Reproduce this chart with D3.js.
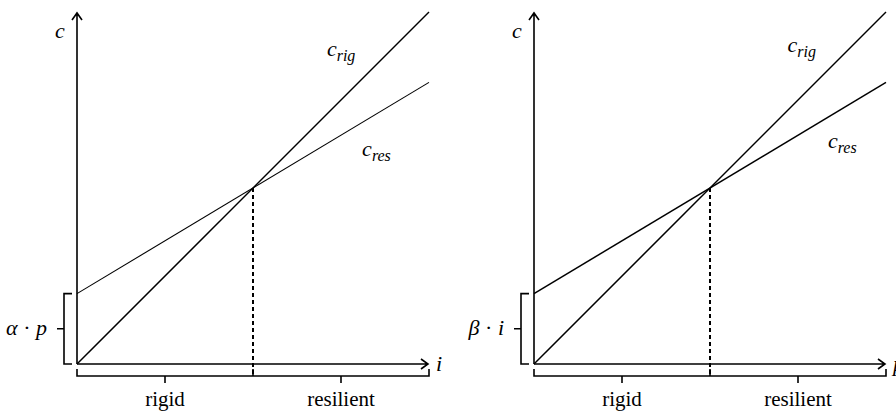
<!DOCTYPE html>
<html>
<head>
<meta charset="utf-8">
<script src="https://cdn.jsdelivr.net/npm/d3@7"></script>
<style>
  body { margin: 0; background: #fff; }
</style>
</head>
<body>
<div id="chart"></div>
<script>
// panel content
const xLabels = ["i", "p"];
const braceLabels = [["α", "p"], ["β", "i"]];
const regimeLabels = ["rigid", "resilient"];
const seriesNames = ["rig", "res"];
// line definitions: c = intercept + slope * x
const intercepts = [0, 2];
const slopes = [1, 0.6];
const xDomain = [0, 10];
const yDomain = [0, 10];
// label anchors in data units, per panel [rig, res]
const labelX = [[7.1, 8.1], [7.2, 8.35]];
const labelY = [[8.75, 5.9], [8.85, 6.15]];

const width = 896, height = 412;
const panelLeft = [77, 534];
const plotW = 352;
const plotTop = 12, plotBottom = 364;
const serif = "Liberation Serif";

const svg = d3.select("#chart").append("svg")
  .attr("width", width)
  .attr("height", height);

const y = d3.scaleLinear().domain(yDomain).range([plotBottom, plotTop]);

// crossing point of the two lines
const xStar = (intercepts[1] - intercepts[0]) / (slopes[0] - slopes[1]);

function label(g) {
  return g.append("text").attr("font-family", serif).attr("fill", "#000");
}

panelLeft.forEach((left, p) => {
  const x = d3.scaleLinear().domain(xDomain).range([left, left + plotW]);
  const g = svg.append("g");
  const line = d3.line().x(d => x(d[0])).y(d => y(d[1]));

  // dashed threshold line
  g.append("line")
    .attr("x1", x(xStar)).attr("x2", x(xStar))
    .attr("y1", y(intercepts[0] + slopes[0] * xStar))
    .attr("y2", 376)
    .attr("stroke", "#000").attr("stroke-width", 2)
    .attr("stroke-dasharray", "4,3");

  // the two cost lines
  seriesNames.forEach((name, k) => {
    const pts = xDomain.map(v => [v, intercepts[k] + slopes[k] * v]);
    g.append("path")
      .attr("d", line(pts))
      .attr("fill", "none")
      .attr("stroke", "#000")
      .attr("stroke-width", k === 0 ? 1.5 : (p === 0 ? 1.1 : 1.5));

    const t = label(g)
      .attr("x", x(labelX[p][k]))
      .attr("y", y(labelY[p][k]))
      .attr("font-size", 22)
      .attr("font-style", "italic");
    t.append("tspan").text("c");
    t.append("tspan").attr("font-size", 16).attr("dy", 5).text(name);
  });

  // axes with open arrow heads
  const x0 = x(0), y0 = y(0);
  const xEnd = x(xDomain[1]) - 1, yEnd = plotTop + 1;
  g.append("path")
    .attr("d", `M${x0},${y0}H${xEnd}M${xEnd - 7},${y0 - 5}L${xEnd},${y0}L${xEnd - 7},${y0 + 5}`)
    .attr("fill", "none").attr("stroke", "#000").attr("stroke-width", 1.6);
  g.append("path")
    .attr("d", `M${x0},${y0}V${yEnd}M${x0 - 5},${yEnd + 7}L${x0},${yEnd}L${x0 + 5},${yEnd + 7}`)
    .attr("fill", "none").attr("stroke", "#000").attr("stroke-width", 1.6);

  label(g)
    .attr("x", x0 - 22).attr("y", 38)
    .attr("font-size", 22).attr("font-style", "italic")
    .text("c");
  label(g)
    .attr("x", xEnd + 8).attr("y", y0 + 7)
    .attr("font-size", 22).attr("font-style", "italic")
    .text(xLabels[p]);

  // bottom brace: rigid / resilient
  const by = 376, bt = 369, bm = 383;
  const xs = [xDomain[0], xStar, xDomain[1]];
  g.append("path")
    .attr("d", `M${x(xs[0])},${bt}V${by}H${x(xs[2])}V${bt}M${x(xs[1])},${bt}V${by}`)
    .attr("fill", "none").attr("stroke", "#000").attr("stroke-width", 1.6);
  regimeLabels.forEach((lab, k) => {
    const mid = x((xs[k] + xs[k + 1]) / 2);
    g.append("path")
      .attr("d", `M${mid},${by}V${bm}`)
      .attr("stroke", "#000").attr("stroke-width", 1.6);
    label(g)
      .attr("x", mid).attr("y", 406)
      .attr("text-anchor", "middle")
      .attr("font-size", 21)
      .text(lab);
  });

  // left brace: intercept of c_res
  const bx = x0 - 13;
  const yi = y(intercepts[1]);
  const ym = y(intercepts[1] / 2);
  g.append("path")
    .attr("d", `M${x0 - 5},${yi}H${bx}V${y0}H${x0 - 5}M${bx},${ym}H${bx - 7}`)
    .attr("fill", "none").attr("stroke", "#000").attr("stroke-width", 1.6);
  const bl = label(g)
    .attr("x", bx - 17).attr("y", ym + 6)
    .attr("text-anchor", "end")
    .attr("font-size", 22);
  bl.append("tspan").attr("font-style", "italic").text(braceLabels[p][0]);
  bl.append("tspan").text(" · ");
  bl.append("tspan").attr("font-style", "italic").text(braceLabels[p][1]);
});
</script>
</body>
</html>
